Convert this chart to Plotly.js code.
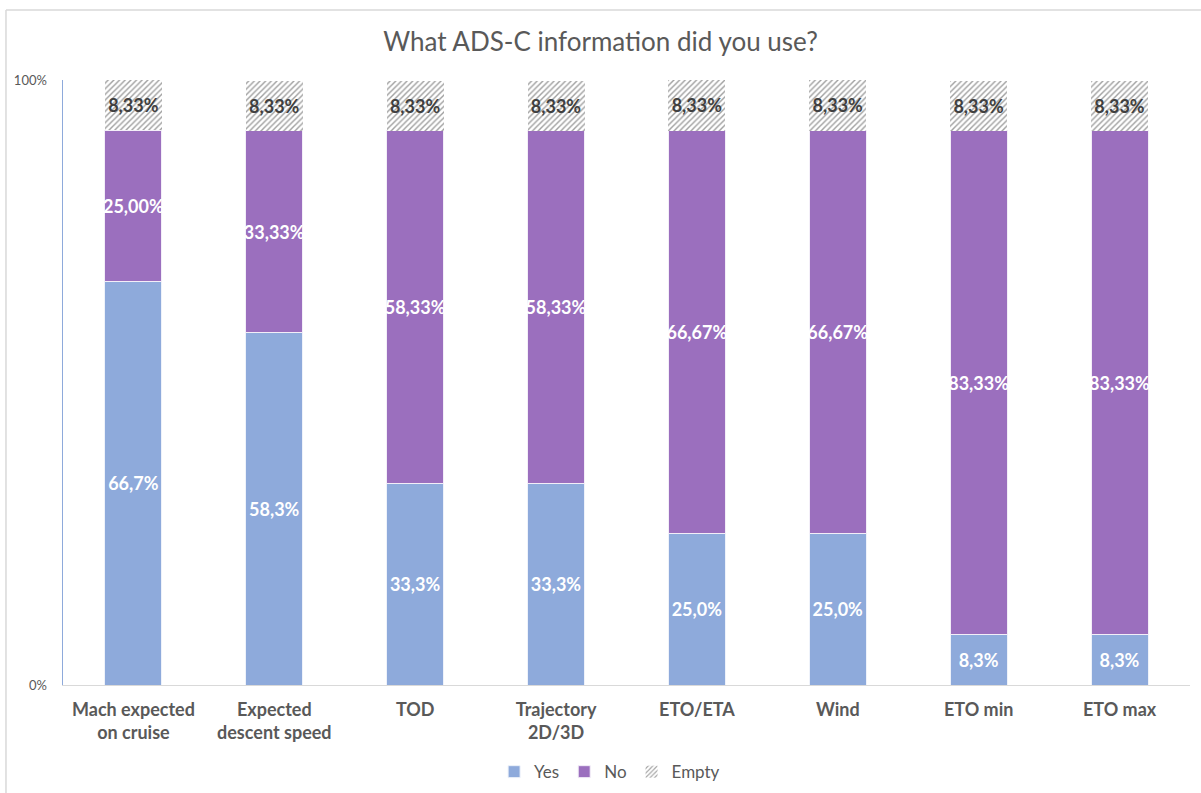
<!DOCTYPE html>
<html>
<head>
<meta charset="utf-8">
<script src="https://cdn.plot.ly/plotly-3.0.1.min.js"></script>
<style>
html,body{margin:0;padding:0;background:#fff;}
#chart{width:1201px;height:793px;}
</style>
</head>
<body>
<div id="chart"></div>
<script>
const categories = ["Mach expected<br>on cruise", "Expected<br>descent speed", "TOD", "Trajectory<br>2D/3D", "ETO/ETA", "Wind", "ETO min", "ETO max"];
const yesValues = [66.7, 58.3, 33.3, 33.3, 25.0, 25.0, 8.3, 8.3];
const noValues = [25.00, 33.33, 58.33, 58.33, 66.67, 66.67, 83.33, 83.33];
const emptyValues = [8.33, 8.33, 8.33, 8.33, 8.33, 8.33, 8.33, 8.33];
const seriesNames = ["Yes", "No", "Empty"];

const fmt = (v, d) => v.toFixed(d).replace('.', ',') + '%';
const FAM = "Lato, 'Noto Sans', sans-serif";
const labelFont = {family: FAM, size: 18, color: '#ffffff', weight: 'bold'};

const common = {
  type: 'bar',
  x: categories,
  textposition: 'inside',
  insidetextanchor: 'middle',
  textangle: 0,
  constraintext: 'none',
  cliponaxis: false,
  hoverinfo: 'none'
};

const traces = [
  Object.assign({}, common, {
    name: seriesNames[0], y: yesValues,
    text: yesValues.map(v => fmt(v, 1)),
    marker: {color: '#8eaadb', line: {color: '#eef2fa', width: 1}},
    insidetextfont: labelFont
  }),
  Object.assign({}, common, {
    name: seriesNames[1], y: noValues,
    text: noValues.map(v => fmt(v, 2)),
    marker: {color: '#9b6fbe', line: {color: '#f3eef8', width: 1}},
    insidetextfont: labelFont
  }),
  Object.assign({}, common, {
    name: seriesNames[2], y: emptyValues,
    text: emptyValues.map(v => fmt(v, 2)),
    marker: {color: '#ffffff', line: {color: '#ffffff', width: 0},
      pattern: {shape: '/', fgcolor: '#a0a0a0', bgcolor: '#ffffff', size: 4, solidity: 0.35}},
    insidetextfont: Object.assign({}, labelFont, {color: '#404040'})
  })
];

const layout = {
  width: 1201, height: 793,
  margin: {l: 63, r: 11, t: 80, b: 108, autoexpand: false},
  paper_bgcolor: '#ffffff', plot_bgcolor: '#ffffff',
  barmode: 'stack',
  bargap: 0.595,
  font: {family: FAM, color: '#595959'},
  title: {
    text: 'What ADS-C information did you use?',
    font: {size: 26, color: '#595959', family: FAM},
    x: 0.5, xref: 'container', xanchor: 'center',
    y: 0.947, yref: 'container', yanchor: 'middle'
  },
  xaxis: {
    showline: true, linecolor: '#d9d9d9', linewidth: 1,
    ticks: '', showgrid: false, ticklabelstandoff: 8,
    tickfont: {size: 18, color: '#595959', weight: 'bold'}
  },
  yaxis: {
    range: [0, 100.05], tickvals: [0, 100], ticktext: ['0%', '100%'],
    showgrid: true, gridcolor: '#d9d9d9', zeroline: false,
    showline: true, linecolor: '#8eaadb', linewidth: 1.5,
    ticks: '', ticklabelstandoff: 12,
    tickfont: {size: 13, color: '#595959'}
  },
  legend: {
    orientation: 'h', x: 0.485, xanchor: 'center', y: -0.144, yanchor: 'middle',
    font: {size: 17, color: '#595959'}, traceorder: 'normal', itemwidth: 30
  },
  shapes: [
    {type: 'line', xref: 'paper', yref: 'paper', x0: -0.0506, x1: 1.02, y0: 1.1157, y1: 1.1157,
      line: {color: '#d9d9d9', width: 1.5}},
    {type: 'line', xref: 'paper', yref: 'paper', x0: -0.0506, x1: -0.0506, y0: 1.1157, y1: -0.2,
      line: {color: '#d9d9d9', width: 1.5}}
  ]
};

Plotly.newPlot('chart', traces, layout, {displayModeBar: false, staticPlot: true});
</script>
</body>
</html>
